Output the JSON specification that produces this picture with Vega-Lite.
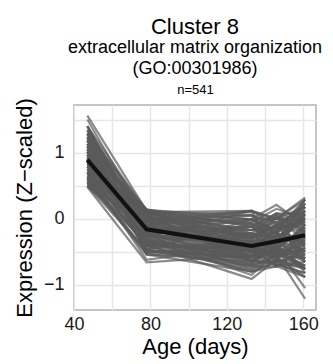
{
  "$schema": "https://vega.github.io/schema/vega-lite/v6.json",
  "autosize": "none",
  "width": 242,
  "height": 205,
  "padding": {"left": 74, "top": 105, "right": 17, "bottom": 54},
  "title": {
    "text": "Cluster 8",
    "subtitle": ["extracellular matrix organization", "(GO:00301986)"],
    "font": "Liberation Sans",
    "fontSize": 22,
    "fontWeight": "normal",
    "color": "#000000",
    "subtitleFont": "Liberation Sans",
    "subtitleFontSize": 18,
    "subtitleColor": "#000000",
    "subtitleLineHeight": 21,
    "subtitlePadding": 0,
    "anchor": "middle",
    "frame": "group",
    "offset": 4
  },
  "config": {
    "view": {"stroke": "#b3b3b3", "strokeWidth": 1.5},
    "axis": {
      "labelFont": "Liberation Sans",
      "titleFont": "Liberation Sans",
      "labelColor": "#1a1a1a",
      "titleColor": "#000000",
      "titleFontWeight": "normal",
      "domain": false,
      "ticks": false,
      "gridColor": "#e6e6e6",
      "gridWidth": 1.5
    }
  },
  "datasets": {
    "genes": [
      {"g":1,"x":47,"y":0.50},{"g":1,"x":78,"y":-0.48},{"g":1,"x":133,"y":-0.58},{"g":1,"x":146,"y":-0.58},{"g":1,"x":161,"y":-0.44},
      {"g":2,"x":47,"y":0.57},{"g":2,"x":78,"y":-0.54},{"g":2,"x":133,"y":-0.65},{"g":2,"x":146,"y":-0.45},{"g":2,"x":161,"y":-0.54},
      {"g":3,"x":47,"y":0.64},{"g":3,"x":78,"y":-0.35},{"g":3,"x":133,"y":-0.72},{"g":3,"x":146,"y":-0.72},{"g":3,"x":161,"y":-0.65},
      {"g":4,"x":47,"y":0.71},{"g":4,"x":78,"y":-0.41},{"g":4,"x":133,"y":-0.80},{"g":4,"x":146,"y":-0.65},{"g":4,"x":161,"y":-0.88},
      {"g":5,"x":47,"y":0.79},{"g":5,"x":78,"y":-0.22},{"g":5,"x":133,"y":-0.51},{"g":5,"x":146,"y":-0.51},{"g":5,"x":161,"y":-0.76},
      {"g":6,"x":47,"y":0.86},{"g":6,"x":78,"y":-0.28},{"g":6,"x":133,"y":-0.37},{"g":6,"x":146,"y":-0.38},{"g":6,"x":161,"y":-0.24},
      {"g":7,"x":47,"y":0.93},{"g":7,"x":78,"y":-0.09},{"g":7,"x":133,"y":-0.44},{"g":7,"x":146,"y":-0.24},{"g":7,"x":161,"y":-0.34},
      {"g":8,"x":47,"y":1.01},{"g":8,"x":78,"y":-0.15},{"g":8,"x":133,"y":-0.22},{"g":8,"x":146,"y":-0.31},{"g":8,"x":161,"y":-0.04},
      {"g":9,"x":47,"y":1.09},{"g":9,"x":78,"y":0.04},{"g":9,"x":133,"y":-0.30},{"g":9,"x":146,"y":-0.09},{"g":9,"x":161,"y":-0.14},
      {"g":10,"x":47,"y":1.18},{"g":10,"x":78,"y":-0.02},{"g":10,"x":133,"y":-0.01},{"g":10,"x":146,"y":-0.17},{"g":10,"x":161,"y":0.18},
      {"g":11,"x":47,"y":1.28},{"g":11,"x":78,"y":0.14},{"g":11,"x":133,"y":-0.12},{"g":11,"x":146,"y":0.08},{"g":11,"x":161,"y":0.07},
      {"g":12,"x":47,"y":1.40},{"g":12,"x":78,"y":0.10},{"g":12,"x":133,"y":0.12},{"g":12,"x":146,"y":0.00},{"g":12,"x":161,"y":0.29},
      {"g":13,"x":47,"y":0.50},{"g":13,"x":78,"y":-0.28},{"g":13,"x":133,"y":-0.30},{"g":13,"x":146,"y":-0.09},{"g":13,"x":161,"y":0.18},
      {"g":14,"x":47,"y":0.57},{"g":14,"x":78,"y":-0.15},{"g":14,"x":133,"y":-0.12},{"g":14,"x":146,"y":0.08},{"g":14,"x":161,"y":-0.04},
      {"g":15,"x":47,"y":0.64},{"g":15,"x":78,"y":-0.02},{"g":15,"x":133,"y":0.12},{"g":15,"x":146,"y":0.00},{"g":15,"x":161,"y":-0.14},
      {"g":16,"x":47,"y":0.71},{"g":16,"x":78,"y":0.10},{"g":16,"x":133,"y":-0.01},{"g":16,"x":146,"y":-0.24},{"g":16,"x":161,"y":-0.34},
      {"g":17,"x":47,"y":0.79},{"g":17,"x":78,"y":0.14},{"g":17,"x":133,"y":-0.22},{"g":17,"x":146,"y":-0.31},{"g":17,"x":161,"y":-0.54},
      {"g":18,"x":47,"y":0.86},{"g":18,"x":78,"y":0.04},{"g":18,"x":133,"y":-0.37},{"g":18,"x":146,"y":-0.45},{"g":18,"x":161,"y":-0.65},
      {"g":19,"x":47,"y":0.93},{"g":19,"x":78,"y":-0.09},{"g":19,"x":133,"y":-0.51},{"g":19,"x":146,"y":-0.58},{"g":19,"x":161,"y":-0.88},
      {"g":20,"x":47,"y":1.01},{"g":20,"x":78,"y":-0.22},{"g":20,"x":133,"y":-0.65},{"g":20,"x":146,"y":-0.65},{"g":20,"x":161,"y":-0.76},
      {"g":21,"x":47,"y":1.09},{"g":21,"x":78,"y":-0.35},{"g":21,"x":133,"y":-0.80},{"g":21,"x":146,"y":-0.72},{"g":21,"x":161,"y":-0.44},
      {"g":22,"x":47,"y":1.18},{"g":22,"x":78,"y":-0.48},{"g":22,"x":133,"y":-0.72},{"g":22,"x":146,"y":-0.51},{"g":22,"x":161,"y":-0.24},
      {"g":23,"x":47,"y":1.28},{"g":23,"x":78,"y":-0.54},{"g":23,"x":133,"y":-0.58},{"g":23,"x":146,"y":-0.38},{"g":23,"x":161,"y":0.07},
      {"g":24,"x":47,"y":1.40},{"g":24,"x":78,"y":-0.41},{"g":24,"x":133,"y":-0.44},{"g":24,"x":146,"y":-0.17},{"g":24,"x":161,"y":0.29},
      {"g":25,"x":47,"y":1.40},{"g":25,"x":78,"y":-0.22},{"g":25,"x":133,"y":-0.12},{"g":25,"x":146,"y":-0.31},{"g":25,"x":161,"y":-0.65},
      {"g":26,"x":47,"y":1.28},{"g":26,"x":78,"y":-0.09},{"g":26,"x":133,"y":0.12},{"g":26,"x":146,"y":-0.09},{"g":26,"x":161,"y":-0.44},
      {"g":27,"x":47,"y":1.18},{"g":27,"x":78,"y":0.04},{"g":27,"x":133,"y":-0.22},{"g":27,"x":146,"y":0.08},{"g":27,"x":161,"y":-0.24},
      {"g":28,"x":47,"y":1.09},{"g":28,"x":78,"y":0.14},{"g":28,"x":133,"y":-0.01},{"g":28,"x":146,"y":-0.17},{"g":28,"x":161,"y":-0.04},
      {"g":29,"x":47,"y":1.01},{"g":29,"x":78,"y":0.10},{"g":29,"x":133,"y":-0.30},{"g":29,"x":146,"y":0.00},{"g":29,"x":161,"y":0.18},
      {"g":30,"x":47,"y":0.93},{"g":30,"x":78,"y":-0.02},{"g":30,"x":133,"y":-0.37},{"g":30,"x":146,"y":-0.24},{"g":30,"x":161,"y":0.29},
      {"g":31,"x":47,"y":0.86},{"g":31,"x":78,"y":-0.15},{"g":31,"x":133,"y":-0.51},{"g":31,"x":146,"y":-0.38},{"g":31,"x":161,"y":0.07},
      {"g":32,"x":47,"y":0.79},{"g":32,"x":78,"y":-0.28},{"g":32,"x":133,"y":-0.65},{"g":32,"x":146,"y":-0.45},{"g":32,"x":161,"y":-0.14},
      {"g":33,"x":47,"y":0.71},{"g":33,"x":78,"y":-0.41},{"g":33,"x":133,"y":-0.72},{"g":33,"x":146,"y":-0.58},{"g":33,"x":161,"y":-0.34},
      {"g":34,"x":47,"y":0.64},{"g":34,"x":78,"y":-0.54},{"g":34,"x":133,"y":-0.80},{"g":34,"x":146,"y":-0.65},{"g":34,"x":161,"y":-0.54},
      {"g":35,"x":47,"y":0.57},{"g":35,"x":78,"y":-0.48},{"g":35,"x":133,"y":-0.58},{"g":35,"x":146,"y":-0.51},{"g":35,"x":161,"y":-0.76},
      {"g":36,"x":47,"y":0.50},{"g":36,"x":78,"y":-0.35},{"g":36,"x":133,"y":-0.44},{"g":36,"x":146,"y":-0.72},{"g":36,"x":161,"y":-0.88},
      {"g":37,"x":47,"y":0.93},{"g":37,"x":78,"y":-0.41},{"g":37,"x":133,"y":-0.12},{"g":37,"x":146,"y":-0.45},{"g":37,"x":161,"y":-0.14},
      {"g":38,"x":47,"y":0.71},{"g":38,"x":78,"y":-0.09},{"g":38,"x":133,"y":-0.58},{"g":38,"x":146,"y":-0.09},{"g":38,"x":161,"y":-0.65},
      {"g":39,"x":47,"y":1.18},{"g":39,"x":78,"y":-0.28},{"g":39,"x":133,"y":0.12},{"g":39,"x":146,"y":-0.58},{"g":39,"x":161,"y":-0.34},
      {"g":40,"x":47,"y":0.50},{"g":40,"x":78,"y":0.04},{"g":40,"x":133,"y":-0.65},{"g":40,"x":146,"y":-0.31},{"g":40,"x":161,"y":0.07},
      {"g":41,"x":47,"y":1.40},{"g":41,"x":78,"y":-0.15},{"g":41,"x":133,"y":-0.37},{"g":41,"x":146,"y":-0.65},{"g":41,"x":161,"y":-0.54},
      {"g":42,"x":47,"y":0.86},{"g":42,"x":78,"y":0.14},{"g":42,"x":133,"y":-0.58},{"g":42,"x":146,"y":-0.31},{"g":42,"x":161,"y":-0.24},
      {"g":43,"x":47,"y":1.09},{"g":43,"x":78,"y":-0.48},{"g":43,"x":133,"y":-0.01},{"g":43,"x":146,"y":-0.38},{"g":43,"x":161,"y":0.29},
      {"g":44,"x":47,"y":0.64},{"g":44,"x":78,"y":0.10},{"g":44,"x":133,"y":-0.51},{"g":44,"x":146,"y":-0.45},{"g":44,"x":161,"y":-0.76},
      {"g":45,"x":47,"y":1.01},{"g":45,"x":78,"y":-0.35},{"g":45,"x":133,"y":-0.22},{"g":45,"x":146,"y":-0.51},{"g":45,"x":161,"y":0.18},
      {"g":46,"x":47,"y":1.28},{"g":46,"x":78,"y":-0.02},{"g":46,"x":133,"y":-0.58},{"g":46,"x":146,"y":-0.45},{"g":46,"x":161,"y":-0.76},
      {"g":47,"x":47,"y":0.79},{"g":47,"x":78,"y":-0.22},{"g":47,"x":133,"y":-0.01},{"g":47,"x":146,"y":0.00},{"g":47,"x":161,"y":-0.04},
      {"g":48,"x":47,"y":0.57},{"g":48,"x":78,"y":0.04},{"g":48,"x":133,"y":-0.44},{"g":48,"x":146,"y":-0.72},{"g":48,"x":161,"y":-0.44},
      {"g":49,"x":47,"y":1.56},{"g":49,"x":78,"y":0.12},{"g":49,"x":133,"y":-0.10},{"g":49,"x":146,"y":-0.30},{"g":49,"x":161,"y":-0.50},
      {"g":50,"x":47,"y":1.50},{"g":50,"x":78,"y":-0.05},{"g":50,"x":133,"y":-0.30},{"g":50,"x":146,"y":-0.20},{"g":50,"x":161,"y":0.05},
      {"g":51,"x":47,"y":0.48},{"g":51,"x":78,"y":-0.66},{"g":51,"x":133,"y":-0.55},{"g":51,"x":146,"y":-0.45},{"g":51,"x":161,"y":-0.60},
      {"g":52,"x":47,"y":0.70},{"g":52,"x":78,"y":-0.62},{"g":52,"x":133,"y":-0.40},{"g":52,"x":146,"y":-0.60},{"g":52,"x":161,"y":-0.30},
      {"g":53,"x":47,"y":0.90},{"g":53,"x":78,"y":-0.40},{"g":53,"x":133,"y":-0.91},{"g":53,"x":146,"y":-0.62},{"g":53,"x":161,"y":-0.75},
      {"g":54,"x":47,"y":1.10},{"g":54,"x":78,"y":-0.30},{"g":54,"x":133,"y":-0.85},{"g":54,"x":146,"y":-0.50},{"g":54,"x":161,"y":-0.40},
      {"g":55,"x":47,"y":0.80},{"g":55,"x":78,"y":-0.10},{"g":55,"x":133,"y":0.00},{"g":55,"x":146,"y":0.21},{"g":55,"x":161,"y":-0.10},
      {"g":56,"x":47,"y":1.20},{"g":56,"x":78,"y":0.00},{"g":56,"x":133,"y":-0.05},{"g":56,"x":146,"y":0.15},{"g":56,"x":161,"y":0.00},
      {"g":57,"x":47,"y":1.00},{"g":57,"x":78,"y":-0.35},{"g":57,"x":133,"y":-0.50},{"g":57,"x":146,"y":-0.55},{"g":57,"x":161,"y":-1.21},
      {"g":58,"x":47,"y":0.60},{"g":58,"x":78,"y":-0.25},{"g":58,"x":133,"y":-0.30},{"g":58,"x":146,"y":-0.45},{"g":58,"x":161,"y":-1.05},
      {"g":59,"x":47,"y":1.30},{"g":59,"x":78,"y":0.05},{"g":59,"x":133,"y":0.10},{"g":59,"x":146,"y":0.00},{"g":59,"x":161,"y":0.32},
      {"g":60,"x":47,"y":0.54},{"g":60,"x":78,"y":-0.38},{"g":60,"x":133,"y":-0.48},{"g":60,"x":146,"y":-0.28},{"g":60,"x":161,"y":0.01},
      {"g":61,"x":47,"y":0.61},{"g":61,"x":78,"y":-0.51},{"g":61,"x":133,"y":-0.55},{"g":61,"x":146,"y":-0.35},{"g":61,"x":161,"y":0.23},
      {"g":62,"x":47,"y":0.68},{"g":62,"x":78,"y":-0.25},{"g":62,"x":133,"y":-0.34},{"g":62,"x":146,"y":-0.48},{"g":62,"x":161,"y":-0.71},
      {"g":63,"x":47,"y":0.75},{"g":63,"x":78,"y":-0.45},{"g":63,"x":133,"y":-0.76},{"g":63,"x":146,"y":-0.55},{"g":63,"x":161,"y":-0.29},
      {"g":64,"x":47,"y":0.83},{"g":64,"x":78,"y":-0.12},{"g":64,"x":133,"y":-0.17},{"g":64,"x":146,"y":-0.05},{"g":64,"x":161,"y":-0.09},
      {"g":65,"x":47,"y":0.90},{"g":65,"x":78,"y":-0.32},{"g":65,"x":133,"y":-0.62},{"g":65,"x":146,"y":-0.69},{"g":65,"x":161,"y":-0.82},
      {"g":66,"x":47,"y":0.97},{"g":66,"x":78,"y":0.01},{"g":66,"x":133,"y":0.05},{"g":66,"x":146,"y":-0.21},{"g":66,"x":161,"y":-0.49},
      {"g":67,"x":47,"y":1.05},{"g":67,"x":78,"y":-0.19},{"g":67,"x":133,"y":-0.69},{"g":67,"x":146,"y":-0.42},{"g":67,"x":161,"y":0.12},
      {"g":68,"x":47,"y":1.13},{"g":68,"x":78,"y":0.12},{"g":68,"x":133,"y":-0.26},{"g":68,"x":146,"y":-0.13},{"g":68,"x":161,"y":-0.19},
      {"g":69,"x":47,"y":1.23},{"g":69,"x":78,"y":-0.05},{"g":69,"x":133,"y":-0.41},{"g":69,"x":146,"y":0.04},{"g":69,"x":161,"y":-0.60},
      {"g":70,"x":47,"y":1.34},{"g":70,"x":78,"y":0.07},{"g":70,"x":133,"y":-0.07},{"g":70,"x":146,"y":-0.62},{"g":70,"x":161,"y":-0.39},
      {"g":71,"x":47,"y":0.54},{"g":71,"x":78,"y":-0.19},{"g":71,"x":133,"y":-0.26},{"g":71,"x":146,"y":-0.42},{"g":71,"x":161,"y":-0.60},
      {"g":72,"x":47,"y":0.61},{"g":72,"x":78,"y":-0.05},{"g":72,"x":133,"y":0.05},{"g":72,"x":146,"y":-0.13},{"g":72,"x":161,"y":-0.39},
      {"g":73,"x":47,"y":0.68},{"g":73,"x":78,"y":0.07},{"g":73,"x":133,"y":-0.17},{"g":73,"x":146,"y":0.04},{"g":73,"x":161,"y":-0.19},
      {"g":74,"x":47,"y":0.75},{"g":74,"x":78,"y":0.12},{"g":74,"x":133,"y":-0.34},{"g":74,"x":146,"y":-0.21},{"g":74,"x":161,"y":0.12},
      {"g":75,"x":47,"y":0.83},{"g":75,"x":78,"y":0.01},{"g":75,"x":133,"y":-0.48},{"g":75,"x":146,"y":-0.35},{"g":75,"x":161,"y":0.23},
      {"g":76,"x":47,"y":0.90},{"g":76,"x":78,"y":-0.12},{"g":76,"x":133,"y":-0.62},{"g":76,"x":146,"y":-0.48},{"g":76,"x":161,"y":-0.09},
      {"g":77,"x":47,"y":0.97},{"g":77,"x":78,"y":-0.25},{"g":77,"x":133,"y":-0.76},{"g":77,"x":146,"y":-0.62},{"g":77,"x":161,"y":-0.19},
      {"g":78,"x":47,"y":1.05},{"g":78,"x":78,"y":-0.38},{"g":78,"x":133,"y":-0.55},{"g":78,"x":146,"y":-0.69},{"g":78,"x":161,"y":-0.71},
      {"g":79,"x":47,"y":1.13},{"g":79,"x":78,"y":-0.51},{"g":79,"x":133,"y":-0.41},{"g":79,"x":146,"y":-0.55},{"g":79,"x":161,"y":-0.49},
      {"g":80,"x":47,"y":1.23},{"g":80,"x":78,"y":-0.45},{"g":80,"x":133,"y":-0.07},{"g":80,"x":146,"y":-0.28},{"g":80,"x":161,"y":-0.82},
      {"g":81,"x":47,"y":1.34},{"g":81,"x":78,"y":-0.32},{"g":81,"x":133,"y":-0.69},{"g":81,"x":146,"y":-0.05},{"g":81,"x":161,"y":-0.29},
      {"g":82,"x":47,"y":1.34},{"g":82,"x":78,"y":-0.12},{"g":82,"x":133,"y":-0.41},{"g":82,"x":146,"y":-0.35},{"g":82,"x":161,"y":-0.29},
      {"g":83,"x":47,"y":1.23},{"g":83,"x":78,"y":-0.25},{"g":83,"x":133,"y":-0.55},{"g":83,"x":146,"y":-0.48},{"g":83,"x":161,"y":-0.49},
      {"g":84,"x":47,"y":1.13},{"g":84,"x":78,"y":-0.38},{"g":84,"x":133,"y":-0.69},{"g":84,"x":146,"y":-0.62},{"g":84,"x":161,"y":-0.71},
      {"g":85,"x":47,"y":1.05},{"g":85,"x":78,"y":-0.51},{"g":85,"x":133,"y":-0.48},{"g":85,"x":146,"y":-0.42},{"g":85,"x":161,"y":-0.19},
      {"g":86,"x":47,"y":0.97},{"g":86,"x":78,"y":-0.45},{"g":86,"x":133,"y":-0.34},{"g":86,"x":146,"y":-0.28},{"g":86,"x":161,"y":0.01},
      {"g":87,"x":47,"y":0.90},{"g":87,"x":78,"y":0.07},{"g":87,"x":133,"y":-0.17},{"g":87,"x":146,"y":-0.13},{"g":87,"x":161,"y":0.23},
      {"g":88,"x":47,"y":0.83},{"g":88,"x":78,"y":0.12},{"g":88,"x":133,"y":0.05},{"g":88,"x":146,"y":-0.05},{"g":88,"x":161,"y":0.12},
      {"g":89,"x":47,"y":0.75},{"g":89,"x":78,"y":0.01},{"g":89,"x":133,"y":-0.26},{"g":89,"x":146,"y":0.04},{"g":89,"x":161,"y":-0.09},
      {"g":90,"x":47,"y":0.68},{"g":90,"x":78,"y":-0.05},{"g":90,"x":133,"y":-0.07},{"g":90,"x":146,"y":-0.21},{"g":90,"x":161,"y":-0.39},
      {"g":91,"x":47,"y":0.61},{"g":91,"x":78,"y":-0.19},{"g":91,"x":133,"y":-0.41},{"g":91,"x":146,"y":-0.55},{"g":91,"x":161,"y":-0.60},
      {"g":92,"x":47,"y":0.54},{"g":92,"x":78,"y":-0.32},{"g":92,"x":133,"y":-0.62},{"g":92,"x":146,"y":-0.69},{"g":92,"x":161,"y":-0.82},
      {"g":93,"x":47,"y":0.90},{"g":93,"x":78,"y":-0.25},{"g":93,"x":133,"y":-0.41},{"g":93,"x":146,"y":-0.28},{"g":93,"x":161,"y":-0.39},
      {"g":94,"x":47,"y":0.97},{"g":94,"x":78,"y":-0.19},{"g":94,"x":133,"y":-0.34},{"g":94,"x":146,"y":-0.35},{"g":94,"x":161,"y":-0.29},
      {"g":95,"x":47,"y":0.83},{"g":95,"x":78,"y":-0.12},{"g":95,"x":133,"y":-0.48},{"g":95,"x":146,"y":-0.42},{"g":95,"x":161,"y":-0.19},
      {"g":96,"x":47,"y":1.05},{"g":96,"x":78,"y":-0.32},{"g":96,"x":133,"y":-0.26},{"g":96,"x":146,"y":-0.21},{"g":96,"x":161,"y":-0.49},
      {"g":97,"x":47,"y":0.75},{"g":97,"x":78,"y":-0.05},{"g":97,"x":133,"y":-0.55},{"g":97,"x":146,"y":-0.48},{"g":97,"x":161,"y":-0.09},
      {"g":98,"x":47,"y":1.13},{"g":98,"x":78,"y":-0.25},{"g":98,"x":133,"y":-0.34},{"g":98,"x":146,"y":-0.35},{"g":98,"x":161,"y":-0.60},
      {"g":99,"x":47,"y":0.68},{"g":99,"x":78,"y":-0.12},{"g":99,"x":133,"y":-0.48},{"g":99,"x":146,"y":-0.28},{"g":99,"x":161,"y":0.01},
      {"g":100,"x":47,"y":1.23},{"g":100,"x":78,"y":-0.19},{"g":100,"x":133,"y":-0.62},{"g":100,"x":146,"y":-0.48},{"g":100,"x":161,"y":-0.71},
      {"g":101,"x":47,"y":0.61},{"g":101,"x":78,"y":-0.19},{"g":101,"x":133,"y":-0.17},{"g":101,"x":146,"y":-0.21},{"g":101,"x":161,"y":0.12},
      {"g":102,"x":47,"y":0.90},{"g":102,"x":78,"y":-0.38},{"g":102,"x":133,"y":-0.55},{"g":102,"x":146,"y":-0.55},{"g":102,"x":161,"y":-0.49},
      {"g":103,"x":47,"y":0.90},{"g":103,"x":78,"y":0.01},{"g":103,"x":133,"y":-0.26},{"g":103,"x":146,"y":-0.13},{"g":103,"x":161,"y":-0.09}
    ],
    "mean": [
      {"x":47,"y":0.89},{"x":78,"y":-0.16},{"x":133,"y":-0.41},{"x":146,"y":-0.34},{"x":161,"y":-0.25}
    ]
  },
  "layer": [
    {
      "data": {"name": "genes"},
      "mark": {"type": "line", "color": "#5a5a5a", "opacity": 0.7, "strokeWidth": 2.2},
      "encoding": {
        "x": {
          "field": "x", "type": "quantitative",
          "scale": {"domain": [40, 166.7], "nice": false, "zero": false},
          "axis": {
            "title": "Age (days)", "titleFontSize": 22, "titlePadding": 3,
            "labelFontSize": 18, "labelPadding": 5, "labelFlush": false,
            "values": [40, 60, 80, 100, 120, 140, 160],
            "labelExpr": "datum.value % 40 === 0 ? datum.label : ''"
          }
        },
        "y": {
          "field": "y", "type": "quantitative",
          "scale": {"domain": [-1.38, 1.72], "nice": false, "zero": false},
          "axis": {
            "title": "Expression (Z−scaled)", "titleFontSize": 22, "titlePadding": 7,
            "labelFontSize": 18, "labelPadding": 10, "format": "~g",
            "values": [-1, -0.5, 0, 0.5, 1, 1.5],
            "labelExpr": "datum.value % 1 === 0 ? datum.label : ''"
          }
        },
        "detail": {"field": "g", "type": "nominal"}
      }
    },
    {
      "data": {"name": "mean"},
      "mark": {"type": "line", "color": "#111111", "strokeWidth": 4},
      "encoding": {
        "x": {
          "field": "x", "type": "quantitative",
          "scale": {"domain": [40, 166.7], "nice": false, "zero": false},
          "axis": {
            "orient": "top", "title": "n=541", "titleFontSize": 13, "titlePadding": 9,
            "labels": false, "grid": false, "ticks": false, "domain": false
          }
        },
        "y": {"field": "y", "type": "quantitative"}
      }
    }
  ],
  "resolve": {"scale": {"x": "independent"}}
}
